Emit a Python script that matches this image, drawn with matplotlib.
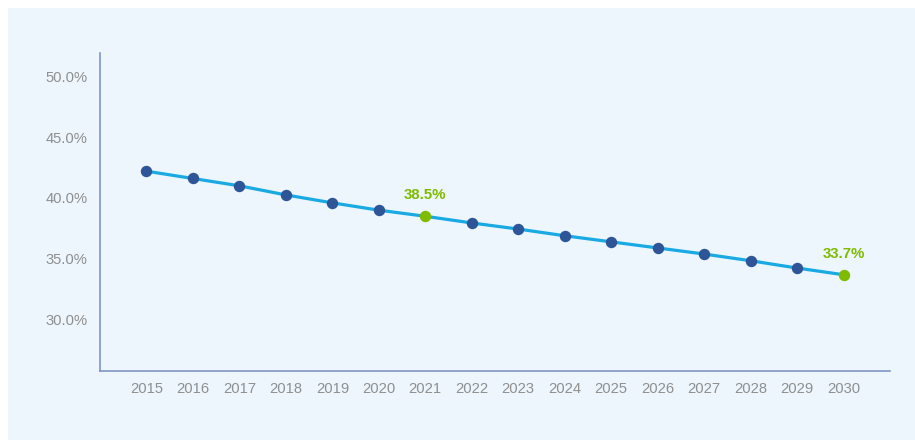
import matplotlib.pyplot as plt
from matplotlib.patches import Rectangle
from matplotlib.ticker import FuncFormatter

plt.rcParams['font.family'] = ['Liberation Sans', 'DejaVu Sans']

years = list(range(2015, 2031))
share = [42.2, 41.6, 41.0, 40.25, 39.6, 39.0, 38.5, 37.95, 37.45, 36.9,
         36.4, 35.9, 35.4, 34.85, 34.25, 33.7]
highlight = {2021: "38.5%", 2030: "33.7%"}

line_color = '#19a9e3'
dot_color = '#2e5597'
green = '#7fbb00'
bg = '#edf6fd'


def start():
    fig = plt.figure(figsize=(9.15, 4.4), dpi=100)
    fig.patches.append(Rectangle((8 / 915, 0), 1, 432 / 440, transform=fig.transFigure,
                                 facecolor=bg, edgecolor='none', zorder=-10))
    ax = fig.add_axes([100 / 915, 69 / 440, 790 / 915, 318 / 440])
    ax.set_facecolor('none')

    ax.plot(years, share, color=line_color, lw=2.3, zorder=2)
    normal = [(y, v) for y, v in zip(years, share) if y not in highlight]
    ax.plot([p[0] for p in normal], [p[1] for p in normal], 'o', color=dot_color,
            ms=7.2, zorder=3)
    for y, v in zip(years, share):
        if y in highlight:
            ax.plot(y, v, 'o', color=green, ms=7.2, zorder=3)
            ax.annotate(highlight[y], (y, v), xytext=(0, 10), textcoords='offset points',
                        ha='center', va='bottom', color=green, fontsize=10.8, fontweight='bold')

    ax.set_xlim(2014, 2031)
    ax.set_ylim(25.8, 51.9)
    ax.set_xticks(years)
    ax.set_yticks([30, 35, 40, 45, 50])
    ax.yaxis.set_major_formatter(FuncFormatter(lambda v, p: f"{v:.1f}%"))
    ax.tick_params(length=0, colors='#8f8f8f', labelsize=10.6)
    ax.tick_params(axis='x', pad=8)
    ax.tick_params(axis='y', pad=9)
    for s in ['top', 'right']:
        ax.spines[s].set_visible(False)
    for s in ['left', 'bottom']:
        ax.spines[s].set_color('#7f95c4')
        ax.spines[s].set_linewidth(1.2)

    fig.savefig("out.png", dpi=100)


if __name__ == "__main__":
    start()
